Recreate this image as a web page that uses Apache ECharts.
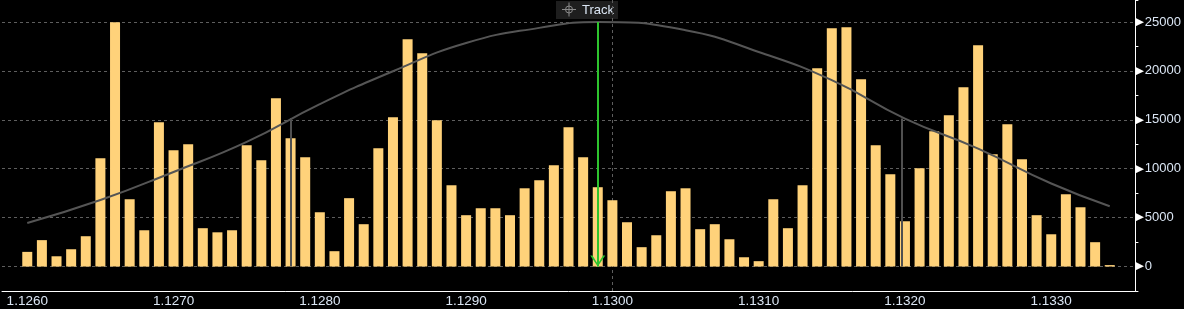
<!DOCTYPE html>
<html><head><meta charset="utf-8">
<script src="https://cdn.jsdelivr.net/npm/echarts@6/dist/echarts.min.js"></script>
<style>html,body{margin:0;padding:0;background:#000}#c{width:1184px;height:309px}</style>
</head><body><div id="c"></div>
<script>
// price levels (x) of the volume bars
const prices = [
  1.1260,1.1261,1.1262,1.1263,1.1264,1.1265,1.1266,1.1267,1.1268,1.1269,
  1.1270,1.1271,1.1272,1.1273,1.1274,1.1275,1.1276,1.1277,1.1278,1.1279,
  1.1280,1.1281,1.1282,1.1283,1.1284,1.1285,1.1286,1.1287,1.1288,1.1289,
  1.1290,1.1291,1.1292,1.1293,1.1294,1.1295,1.1296,1.1297,1.1298,1.1299,
  1.1300,1.1301,1.1302,1.1303,1.1304,1.1305,1.1306,1.1307,1.1308,1.1309,
  1.1310,1.1311,1.1312,1.1313,1.1314,1.1315,1.1316,1.1317,1.1318,1.1319,
  1.1320,1.1321,1.1322,1.1323,1.1324,1.1325,1.1326,1.1327,1.1328,1.1329,
  1.1330,1.1331,1.1332,1.1333,1.1334
];
// volume at each price level
const volumes = [
  1500,2700,1050,1770,3100,11070,24980,6880,3710,14750,
  11890,12500,3920,3500,3710,12400,10870,17210,13120,11180,
  5550,1570,6990,4330,12100,15270,23240,21810,14960,8310,
  5250,5960,5960,5250,8000,8830,10360,14240,11180,8110,
  6780,4530,1980,3200,7700,8000,3820,4330,2790,950,
  550,6880,3920,8310,20280,24370,24470,19150,12400,9440,
  4630,10050,13830,15470,18330,22630,11480,14550,10970,5250,
  3300,7390,6060,2490,150
];
// fitted distribution curve (read at sample prices)
const curvePrices = [1.1260,1.1265,1.1270,1.1275,1.1280,1.1285,1.1290,1.1295,1.1299,1.1305,1.1310,1.1315,1.1320,1.1325,1.1330,1.1334];
const curveValues = [4460,6800,9670,12740,16600,19970,22860,24400,25000,24160,21940,19050,15130,12060,8490,6170];
// +/- sigma markers
const sigmaPrices = [1.1278, 1.13198];
const sigmaValues = [15190, 15130];
// tracked price
const trackPrice = 1.1299;
const trackTop = 25000;
// tick labels
const xTicks = [1.1260,1.1270,1.1280,1.1290,1.1300,1.1310,1.1320,1.1330];
const yTicks = [0,5000,10000,15000,20000,25000];

const chart = echarts.init(document.getElementById('c'), null, {renderer:'canvas'});
const gridLineStyle = {color:'#5e5e5e', width:1, type:[3,3]};
const labelColor = '#dbe6f4';
const chevron = 'path://M0,0 L1.5,0 L5,7.6 L8.5,0 L10,0 L5,10 Z';

chart.setOption({
  backgroundColor:'#000',
  animation:false,
  grid:{left:2, right:47, top:0, bottom:18},
  xAxis:{
    type:'value', min:1.1258273, max:1.1335753,
    splitLine:{show:false},
    axisTick:{show:false},
    axisLine:{onZero:false, lineStyle:{color:'#ffffff', width:1}},
    axisLabel:{customValues:xTicks, formatter:v=>v.toFixed(4), color:labelColor, fontSize:13.5, fontFamily:'Liberation Sans', margin:3}
  },
  yAxis:{
    type:'value', position:'right', min:-2500, max:27250, interval:2500,
    splitLine:{show:false},
    axisLine:{show:true, onZero:false, lineStyle:{color:'#ffffff', width:1}},
    axisTick:{show:true, length:3, lineStyle:{color:'#ffffff'}},
    axisLabel:{
      margin:0,
      formatter:v=> (yTicks.indexOf(v) >= 0 ? '{t|▶}{v|' + v + '}' : ''),
      rich:{
        t:{color:'#ffffff', fontSize:11, fontFamily:'DejaVu Sans', padding:[0,1,0,0]},
        v:{color:labelColor, fontSize:13, fontFamily:'Liberation Sans'}
      }
    }
  },
  graphic:[{
    type:'group', left:556, top:0, silent:true, z:100,
    children:[
      {type:'rect', shape:{x:0,y:0,width:62,height:18}, style:{fill:'#1e1e1e'}},
      {type:'circle', shape:{cx:13,cy:8.5,r:3.5}, style:{fill:'none', stroke:'#8a8a8a', lineWidth:1}},
      {type:'line', shape:{x1:6,y1:8.5,x2:20,y2:8.5}, style:{stroke:'#8a8a8a', lineWidth:1}},
      {type:'line', shape:{x1:13,y1:1.5,x2:13,y2:15.5}, style:{stroke:'#8a8a8a', lineWidth:1}},
      {type:'text', x:26, y:9, style:{text:'Track', fill:labelColor, font:'13px "Liberation Sans"', verticalAlign:'middle'}}
    ]
  }],
  series:[
    {
      name:'Volume', type:'bar', z:2, barWidth:10,
      itemStyle:{color:'#ffd27a'},
      data: prices.map((p,i)=>[p, volumes[i]]),
      markLine:{
        z:0, silent:true, symbol:'none', animation:false,
        label:{show:false}, lineStyle:gridLineStyle,
        emphasis:{disabled:true},
        data: xTicks.map(x=>({xAxis:x})).concat(yTicks.map(y=>({yAxis:y})))
      }
    },
    {
      name:'Fit', type:'line', z:3, smooth:true, showSymbol:false, symbol:'none',
      lineStyle:{color:'#555555', width:2},
      data: curvePrices.map((p,i)=>[p, curveValues[i]]),
      markLine:{
        z:4, silent:true, symbol:'none', animation:false,
        label:{show:false}, emphasis:{disabled:true},
        lineStyle:{color:'#505050', width:2, type:'solid'},
        data: sigmaPrices.map((p,i)=>[{coord:[p,0]},{coord:[p,sigmaValues[i]]}]).concat([
          [{coord:[trackPrice,trackTop], lineStyle:{color:'#2ec42e', width:2, type:'solid'}},
           {coord:[trackPrice,0], lineStyle:{color:'#2ec42e', width:2, type:'solid'}}]
        ])
      },
      markPoint:{
        z:5, silent:true, animation:false,
        symbol:chevron, symbolSize:[15,11], symbolOffset:[0,'-50%'],
        itemStyle:{color:'#2ec42e'}, label:{show:false},
        data:[{coord:[trackPrice,0]}]
      }
    }
  ]
});
</script>
</body></html>
